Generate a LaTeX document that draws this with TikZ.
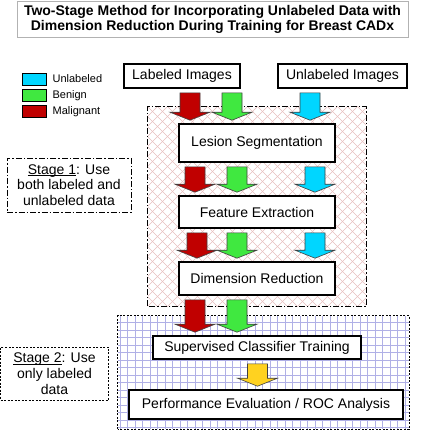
\documentclass[tikz,border=0pt]{standalone}
\usepackage{fontspec}
\setmainfont{Liberation Sans}
\usetikzlibrary{calc}

\definecolor{malig}{RGB}{192,0,0}
\definecolor{benign}{RGB}{64,232,64}
\definecolor{unlab}{RGB}{0,214,255}
\definecolor{result}{RGB}{255,210,32}
\definecolor{hatch}{RGB}{232,190,190}
\definecolor{gridline}{RGB}{176,176,230}

\tikzstyle{stepbox}=[draw,line width=1.6pt,fill=white,inner sep=0pt,font=\fontsize{14}{16}\selectfont]
\tikzstyle{swatch}=[draw,line width=0.8pt,minimum width=24pt,minimum height=12pt,inner sep=0pt]
\tikzstyle{legend}=[anchor=west,inner sep=0pt,font=\fontsize{11}{13}\selectfont]
\tikzstyle{stage note}=[align=center,inner sep=0pt,line width=0.8pt,font=\fontsize{14}{15.7}\selectfont]
\tikzstyle{region}=[inner sep=0pt]
\tikzstyle{flow}=[draw=black!75,line width=0.6pt]

% underline that stays close to the baseline
\newcommand{\stagename}[1]{\setbox0\hbox{#1}\rlap{\rule[-1.6pt]{\wd0}{0.6pt}}\box0}

% block arrow: colour, source node, target node, x offset from target centre
\newcommand{\flowarrow}[4]{%
  \coordinate (tip) at ([xshift=#4,yshift=3pt]#3.north);
  \coordinate (tail) at ([yshift=-4pt]#2.south -| tip);
  \path[flow,fill=#1] ($(tail)+(-10,0)$) -- ($(tip)+(-10,8)$) -- ($(tip)+(-20,8)$) -- (tip)
    -- ($(tip)+(20,8)$) -- ($(tip)+(10,8)$) -- ($(tail)+(10,0)$) -- cycle;
}

\begin{document}
\begin{tikzpicture}[x=1pt,y=1pt]
\useasboundingbox (0,0) rectangle (425,-431);

% stage regions
\node[region,minimum width=218,minimum height=199] (s1) at (257,-206.5) {};
\node[region,minimum width=291,minimum height=113] (s2) at (263.5,-372.5) {};
\begin{scope}
  \clip (s1.south west) rectangle (s1.north east);
  \foreach \d in {-220,-210,...,230}{
    \draw[hatch,line width=0.5pt] ({148+\d},-107) -- ++(220,-220);
    \draw[hatch,line width=0.5pt] ({148+\d},-306) -- ++(220,220);
  }
\end{scope}
\begin{scope}
  \clip (s2.south west) rectangle (s2.north east);
  \draw[gridline,line width=0.5pt,step=7.5] (s2.south west) grid (s2.north east);
\end{scope}
\draw[line width=0.8pt,dash pattern=on 6pt off 2pt on 1.5pt off 2pt] (s1.south west) rectangle (s1.north east);
\draw[line width=0.8pt,dash pattern=on 2pt off 1.5pt] (s2.south west) rectangle (s2.north east);

% title
\node[draw=black!30,line width=0.8pt,minimum width=391,minimum height=36,inner sep=0pt,align=center,
      font=\bfseries\fontsize{14}{15}\selectfont] (title) at (212.5,-19)
  {Two-Stage Method for Incorporating Unlabeled Data with\\Dimension Reduction During Training for Breast CADx};

% legend
\foreach \y/\col/\lbl in {79/unlab/Unlabeled, 95.5/benign/Benign, 111.5/malig/Malignant}{
  \node[swatch,fill=\col] (sw\lbl) at (34,-\y) {};
  \node[legend] (key\lbl) at ([xshift=6pt]sw\lbl.east) {\lbl};
}

% stage notes
\node[stage note,draw,dash pattern=on 6pt off 2pt on 1.5pt off 2pt,minimum width=124,minimum height=54] (note1) at (69,-185)
  {\stagename{Stage 1}: Use\\both labeled and\\unlabeled data};
\node[stage note,draw,dash pattern=on 2pt off 1.5pt,minimum width=108,minimum height=53] (note2) at (54.5,-373.5)
  {\stagename{Stage 2}: Use\\only labeled\\data};

% steps
\node[stepbox,minimum width=116,minimum height=24] (lab) at (182,-76) {Labeled Images};
\node[stepbox,minimum width=129,minimum height=24] (unl) at (342.5,-76) {Unlabeled Images};
\node[stepbox,minimum width=156,minimum height=38] (seg) at (257,-143) {Lesion Segmentation};
\node[stepbox,minimum width=156,minimum height=32] (fe) at (257,-212) {Feature Extraction};
\node[stepbox,minimum width=156,minimum height=33] (dr) at (257,-278.5) {Dimension Reduction};
\node[stepbox,minimum width=208,minimum height=23] (sct) at (257,-347.5) {Supervised Classifier Training};
\node[stepbox,minimum width=274,minimum height=29] (perf) at (266,-404.5) {Performance Evaluation / ROC Analysis};

% block arrows
\foreach \col/\src/\dst/\dx in {malig/lab/seg/-67, benign/lab/seg/-25, unlab/unl/seg/53,
                                malig/seg/fe/-62, benign/seg/fe/-20, unlab/seg/fe/58,
                                malig/fe/dr/-60, benign/fe/dr/-20, unlab/fe/dr/58,
                                malig/dr/sct/-62, benign/dr/sct/-20, result/sct/perf/-8.5}{
  \flowarrow{\col}{\src}{\dst}{\dx}
}
\end{tikzpicture}
\end{document}
